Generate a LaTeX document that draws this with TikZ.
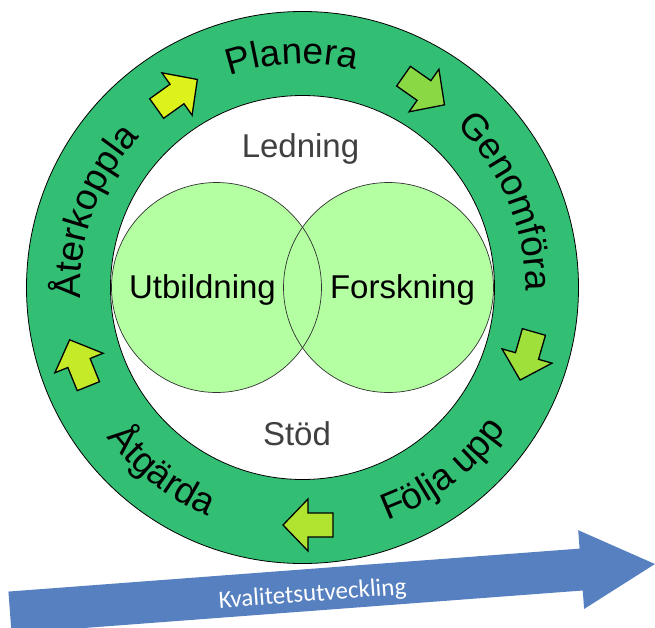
\documentclass[tikz,border=0pt]{standalone}
\usepackage{fontspec}
\setmainfont{Liberation Sans}
\newfontfamily\calibrifont{Carlito}
\usetikzlibrary{decorations.text}
\definecolor{ringgreen}{RGB}{51,191,115}
\definecolor{venngreen}{RGB}{179,255,161}
\definecolor{arrowA}{RGB}{220,242,26}
\definecolor{arrowB}{RGB}{138,217,68}
\definecolor{arrowC}{RGB}{160,224,58}
\definecolor{arrowD}{RGB}{176,228,48}
\definecolor{arrowE}{RGB}{196,234,40}
\definecolor{qblue}{RGB}{87,128,193}
\definecolor{labelgray}{RGB}{64,64,64}
\tikzset{
  ringline/.style={draw=black, line width=0.8pt},
  vennline/.style={draw=black!80, line width=0.7pt},
  innerlabel/.style={font=\fontsize{33}{33}\selectfont, anchor=base, inner sep=0pt},
  cyclelabel/.style={decorate, decoration={text along path, text align=center,
      text={|\fontsize{37}{37}\selectfont|#1}}},
  pics/cyclearrow/.style={code={
      \draw[fill=#1, line width=1.3pt, line join=miter]
        (-25,-12) -- (0,-12) -- (0,-26) -- (25,0) -- (0,26) -- (0,12) -- (-25,12) -- cycle;}},
}
\begin{document}
\begin{tikzpicture}[x=1pt,y=1pt]
\useasboundingbox (-302.5,-339.5) rectangle (352.5,287.5);
% blue progress arrow
\begin{scope}[shift={(-292.5,-325)}, rotate=4.3]
  \fill[qblue] (0,-21) -- (572.8,-21) -- (572.8,-39.5) -- (646.8,0) -- (572.8,39.5) -- (572.8,21) -- (0,21) -- cycle;
  \node[rotate=4.3, text=white, font=\calibrifont\fontsize{25}{25}\selectfont, inner sep=0pt] (kval) at (303,-5) {Kvalitetsutveckling};
\end{scope}
% ring
\draw[ringline, fill=ringgreen] (0,0) circle[radius=276pt];
\draw[ringline, fill=white] (0,0) circle[radius=192pt];
% venn circles
\fill[venngreen] (-86,0) circle[radius=105pt];
\fill[venngreen] (86,0) circle[radius=105pt];
\draw[vennline] (-86,0) circle[radius=105pt];
\draw[vennline] (86,0) circle[radius=105pt];
% inner labels
\node[innerlabel, text=labelgray] (ledning) at (-2,130.5) {Ledning};
\node[innerlabel] (utb) at (-100,-10.5) {Utbildning};
\node[innerlabel] (forsk) at (100,-10.5) {Forskning};
\node[innerlabel, text=labelgray] (stod) at (-5.5,-157.5) {Stöd};
% cycle labels
\path[cyclelabel=Planera] (132.6:224pt) arc[start angle=132.6, end angle=52.6, radius=224pt];
\path[cyclelabel=Genomföra] (62.8:223pt) arc[start angle=62.8, end angle=-17.2, radius=223pt];
\path[cyclelabel=Följa upp] (-92.5:248pt) arc[start angle=-92.5, end angle=-12.5, radius=248pt];
\path[cyclelabel=Åtgärda] (192.5:247pt) arc[start angle=192.5, end angle=272.5, radius=247pt];
\path[cyclelabel=Återkoppla] (200:222pt) arc[start angle=200, end angle=120, radius=222pt];
% cycle arrows
\pic[rotate=35.5] at (-125.5,193.5) {cyclearrow=arrowA};
\pic[rotate=-35] at (121.5,197) {cyclearrow=arrowB};
\pic[rotate=-106] at (224.5,-68.5) {cyclearrow=arrowC};
\pic[rotate=180] at (5.5,-237.5) {cyclearrow=arrowD};
\pic[rotate=112] at (-223.5,-75.5) {cyclearrow=arrowE};
\end{tikzpicture}
\end{document}
